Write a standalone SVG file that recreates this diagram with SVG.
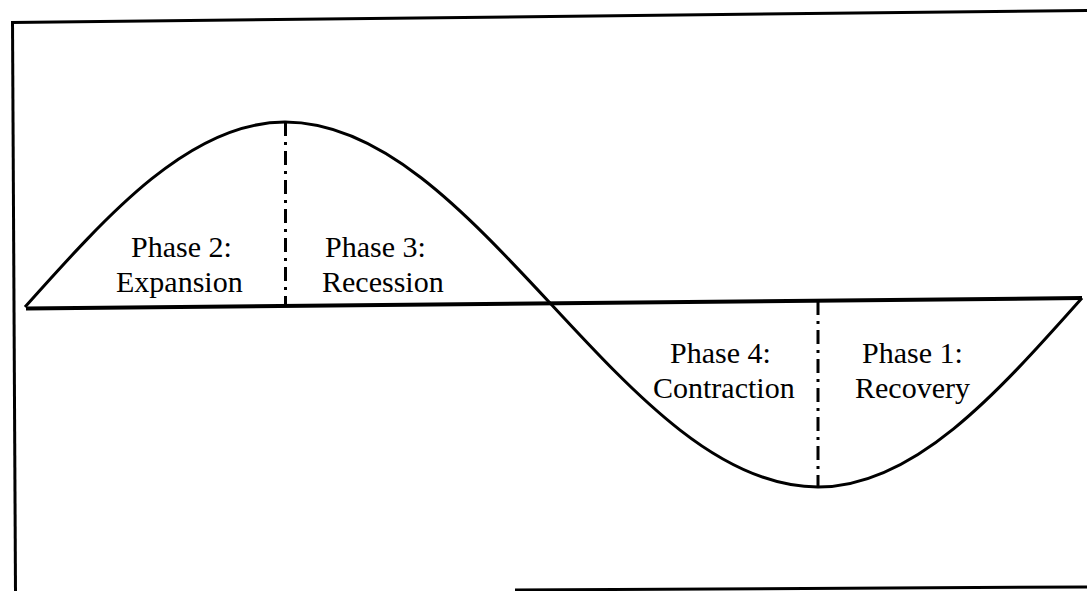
<svg xmlns="http://www.w3.org/2000/svg" width="1087" height="591" viewBox="0 0 1087 591">
  <style>
    .frame { stroke: #000; stroke-width: 3; fill: none; }
    .axis { stroke: #000; stroke-width: 4; fill: none; }
    .curve { stroke: #000; stroke-width: 3; fill: none; stroke-linejoin: round; }
    .divider { stroke: #000; stroke-width: 3; fill: none; stroke-dasharray: 14 6 3 6; }
    .lbl { font-family: "Liberation Serif", "Times New Roman", serif; font-size: 30px; fill: #000; }
  </style>
  <rect width="1087" height="591" fill="#fff"/>
  <g id="frame">
    <line class="frame" x1="11" y1="22.5" x2="1087" y2="10.5"/>
    <line class="frame" x1="12.5" y1="21" x2="15.5" y2="591"/>
    <line class="frame" x1="515" y1="590" x2="1087" y2="587"/>
  </g>
  <g id="axis">
    <line class="axis" x1="26" y1="308.5" x2="1082" y2="298"/>
  </g>
  <g id="curve">
    <path class="curve" d="M25,307 C109.8,212.2 190.9,122 285,122 C380.9,122 463.6,210.3 550,303 C637.4,397.3 721,487 818,487 C913.5,487 995.9,394.8 1082,298"/>
  </g>
  <g id="connectors">
    <line class="divider" x1="285.5" y1="122" x2="285.5" y2="305"/>
    <line class="divider" x1="818" y1="301" x2="818" y2="487"/>
  </g>
  <g id="phase2">
    <text class="lbl" x="131" y="257">Phase 2:</text>
    <text class="lbl" x="116" y="292">Expansion</text>
  </g>
  <g id="phase3">
    <text class="lbl" x="325" y="257">Phase 3:</text>
    <text class="lbl" x="322" y="292">Recession</text>
  </g>
  <g id="phase4">
    <text class="lbl" x="670" y="363">Phase 4:</text>
    <text class="lbl" x="653" y="398">Contraction</text>
  </g>
  <g id="phase1">
    <text class="lbl" x="862" y="363">Phase 1:</text>
    <text class="lbl" x="855" y="398">Recovery</text>
  </g>
</svg>
